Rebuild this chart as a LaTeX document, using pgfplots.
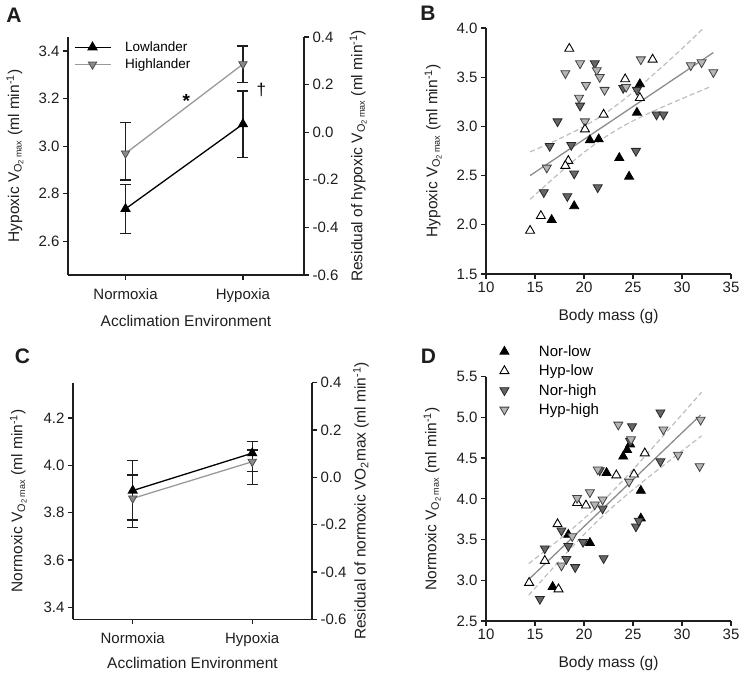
\documentclass[border=0pt]{standalone}
\usepackage{fontspec}
\setmainfont{Liberation Sans}
\usepackage{pgfplots}
\pgfplotsset{compat=1.18}
\definecolor{ax}{HTML}{1E1E1E}
\definecolor{hiline}{HTML}{9A9A9A}
\definecolor{himark}{HTML}{8A8A8A}
\definecolor{norhigh}{HTML}{666666}
\definecolor{hyphigh}{HTML}{B5B5B5}
\definecolor{fitline}{HTML}{8C8C8C}
\definecolor{band}{HTML}{BEBEBE}
\newcommand{\VOmax}{V\textsubscript{O\textsubscript{2}\,{\fontsize{9}{9}\selectfont max}}}
\newcommand{\mininv}{(ml min\textsuperscript{-1})}
\newcommand{\lbf}{\fontsize{15.5}{18}\selectfont}
\pgfplotsset{
  base/.style={scale only axis, anchor=south west, clip=false,
    axis line style={line width=1.3pt, ax, -},
    tick style={line width=1.3pt, ax},
    tick align=outside, major tick length=5pt,
    tick label style={font=\fontsize{15}{18}\selectfont, text=ax},
    /pgf/number format/assume math mode=true},
  leftaxis/.style={axis x line*=bottom, axis y line*=left, tick pos=left},
  rightaxis/.style={axis x line=none, axis y line*=right, ytick pos=right, yticklabel pos=right, xtick=\empty},
  ebars/.style={error bars/.cd, y dir=both, y explicit,
    error bar style={line width=1.3pt, ax},
    error mark options={rotate=90, mark size=5.5pt, line width=1.3pt, ax}},
  lowl/.style={black, line width=1.3pt, mark=triangle*, mark size=4.8pt, mark options={fill=black, draw=black, solid}},
  highl/.style={hiline, line width=1.3pt, mark=triangle*, mark size=4.8pt, mark options={rotate=180, fill=himark, draw=black!70, line width=0.8pt, solid}},
  smk/.style={only marks, mark=triangle*, mark size=5.2pt},
  norlow/.style={smk, mark options={fill=black, draw=black, line width=0.8pt}},
  hyplow/.style={smk, mark options={fill=white, draw=black, line width=0.9pt}},
  norhi/.style={smk, mark options={rotate=180, fill=norhigh, draw=black!85, line width=0.8pt}},
  hyphi/.style={smk, mark options={rotate=180, fill=hyphigh, draw=black!75, line width=0.8pt}},
}
\begin{document}
\begin{tikzpicture}[x=1pt,y=1pt]
\path[use as bounding box] (0,0) rectangle (740,676);
% ---------------- Panel A ----------------
\begin{axis}[base, leftaxis, at={(68pt,401pt)}, width=236pt, height=238pt,
  xmin=-0.49, xmax=1.52, ymin=2.459, ymax=3.459,
  xtick={0,1}, xticklabels={Normoxia,Hypoxia},
  xticklabel style={yshift=-5pt},
  ytick={2.6,2.8,3.0,3.2,3.4}, yticklabels={2.6,2.8,3.0,3.2,3.4},
  xlabel={Acclimation Environment}, ylabel={Hypoxic \VOmax\ \mininv},
  every axis x label/.style={at={(axis description cs:0.5,-0.193)}, anchor=center, font=\lbf, text=ax},
  every axis y label/.style={at={(axis description cs:-0.225,0.5)}, anchor=center, rotate=90, font=\lbf, text=ax},
  reverse legend,
  legend style={at={(axis description cs:0.024,0.99)}, anchor=north west, draw=none, fill=none,
    font=\fontsize{13.5}{16}\selectfont, inner sep=0pt, column sep=12pt, row sep=2pt},
  legend cell align=left,
  legend image code/.code={\draw[mark repeat=2,mark phase=2] plot coordinates {(0pt,0pt) (18pt,0pt) (36pt,0pt)};}]
\addplot[highl, ebars] table[x=x, y=y, y error plus=ep, y error minus=em] {
x y ep em
0 2.970 0.130 0.112
1 3.345 0.076 0.077
};
\addlegendentry{Highlander}
\addplot[lowl, ebars] table[x=x, y=y, y error plus=ep, y error minus=em] {
x y ep em
0 2.737 0.103 0.103
1 3.093 0.139 0.139
};
\addlegendentry{Lowlander}
\node[font=\fontsize{19}{20}\selectfont\bfseries] at (axis cs:0.517,3.190) {*};
\node[font=\fontsize{17}{20}\selectfont] at (axis cs:1.156,3.235) {\textdagger};
\end{axis}
\begin{axis}[base, rightaxis, at={(68pt,401pt)}, width=236pt, height=238pt,
  xmin=0, xmax=1, ymin=-0.6, ymax=0.4,
  ytick={-0.6,-0.4,-0.2,0,0.2,0.4}, yticklabels={-0.6,-0.4,-0.2,0.0,0.2,0.4},
  ylabel={Residual of hypoxic \VOmax\ \mininv},
  every axis y label/.style={at={(axis description cs:1.229,0.5)}, anchor=center, rotate=90, font=\lbf, text=ax}]
\addplot[draw=none, forget plot] coordinates {(0.5,0)};
\end{axis}
% ---------------- Panel B ----------------
\begin{axis}[base, leftaxis, at={(486pt,402pt)}, width=245pt, height=246pt,
  xmin=10, xmax=35, ymin=1.5, ymax=4.0,
  xtick={10,15,20,25,30,35}, xticklabels={10,15,20,25,30,35},
  ytick={1.5,2.0,2.5,3.0,3.5,4.0}, yticklabels={1.5,2.0,2.5,3.0,3.5,4.0},
  xlabel={Body mass (g)}, ylabel={Hypoxic \VOmax\ \mininv},
  every axis x label/.style={at={(axis description cs:0.5,-0.171)}, anchor=center, font=\lbf, text=ax},
  every axis y label/.style={at={(axis description cs:-0.216,0.5)}, anchor=center, rotate=90, font=\lbf, text=ax}]
\addplot[band, line width=1.2pt, dash pattern=on 5pt off 3pt, smooth, forget plot] coordinates {
(14.5,2.741) (16,2.806) (18,2.898) (20,3.000) (22,3.121) (24,3.267) (26,3.433) (28,3.608) (30,3.790) (32.1,3.99)};
\addplot[band, line width=1.2pt, dash pattern=on 5pt off 3pt, smooth, forget plot] coordinates {
(14.5,2.259) (16,2.394) (18,2.570) (20,2.736) (22,2.881) (24,3.003) (26,3.105) (28,3.196) (30,3.282) (32,3.366) (33,3.407)};
\addplot[fitline, line width=1.3pt, forget plot] coordinates {(14.5,2.50) (33.2,3.75)};
\addplot[norhi] coordinates {
(21.1,3.64) (17.3,3.05) (16.5,2.80) (18.7,2.81) (19.6,3.21) (19.0,2.52) (15.9,2.33)
(18.3,2.29) (21.4,2.38) (25.3,2.75) (27.4,3.12) (28.1,3.12) (24.0,3.39) (25.4,3.37)};
\addplot[hyphi] coordinates {
(18.1,3.54) (19.6,3.64) (20.2,3.42) (21.3,3.57) (21.6,3.50) (22.1,3.37) (19.5,3.29)
(20.1,3.05) (16.2,2.58) (25.8,3.68) (24.3,3.40) (30.9,3.62) (32.0,3.65) (33.2,3.55)};
\addplot[hyplow] coordinates {
(18.5,3.79) (27.0,3.68) (24.2,3.48) (25.7,3.29) (22.0,3.12) (20.1,2.97) (18.4,2.65)
(18.1,2.60) (15.6,2.09) (14.5,1.94)};
\addplot[norlow] coordinates {
(25.7,3.43) (25.4,3.14) (20.6,2.86) (21.5,2.87) (23.6,2.68) (24.6,2.49) (19.0,2.19) (16.7,2.05)};
\end{axis}
% ---------------- Panel C ----------------
\begin{axis}[base, leftaxis, at={(73pt,56.7pt)}, width=239pt, height=236.6pt,
  xmin=-0.5, xmax=1.5, ymin=3.349, ymax=4.349,
  xtick={0,1}, xticklabels={Normoxia,Hypoxia},
  xticklabel style={yshift=-5pt},
  ytick={3.4,3.6,3.8,4.0,4.2}, yticklabels={3.4,3.6,3.8,4.0,4.2},
  xlabel={Acclimation Environment}, ylabel={Normoxic \VOmax\ \mininv},
  every axis x label/.style={at={(axis description cs:0.5,-0.186)}, anchor=center, font=\lbf, text=ax},
  every axis y label/.style={at={(axis description cs:-0.229,0.5)}, anchor=center, rotate=90, font=\lbf, text=ax}]
\addplot[highl, ebars] table[x=x, y=y, y error plus=ep, y error minus=em] {
x y ep em
0 3.860 0.099 0.122
1 4.015 0.050 0.095
};
\addplot[lowl, ebars] table[x=x, y=y, y error plus=ep, y error minus=em] {
x y ep em
0 3.893 0.126 0.124
1 4.051 0.049 0.078
};
\end{axis}
\begin{axis}[base, rightaxis, at={(73pt,56.7pt)}, width=239pt, height=236.6pt,
  xmin=0, xmax=1, ymin=-0.6, ymax=0.4,
  ytick={-0.6,-0.4,-0.2,0,0.2,0.4}, yticklabels={-0.6,-0.4,-0.2,0.0,0.2,0.4},
  ylabel={Residual of normoxic VO\textsubscript{2}max \mininv},
  every axis y label/.style={at={(axis description cs:1.205,0.5)}, anchor=center, rotate=90, font=\lbf, text=ax}]
\addplot[draw=none, forget plot] coordinates {(0.5,0)};
\end{axis}
% ---------------- Panel D ----------------
\begin{axis}[base, leftaxis, at={(486pt,55pt)}, width=245pt, height=244.3pt,
  xmin=10, xmax=35, ymin=2.5, ymax=5.5,
  xtick={10,15,20,25,30,35}, xticklabels={10,15,20,25,30,35},
  ytick={2.5,3.0,3.5,4.0,4.5,5.0,5.5}, yticklabels={2.5,3.0,3.5,4.0,4.5,5.0,5.5},
  xlabel={Body mass (g)}, ylabel={Normoxic \VOmax\ \mininv},
  every axis x label/.style={at={(axis description cs:0.5,-0.172)}, anchor=center, font=\lbf, text=ax},
  every axis y label/.style={at={(axis description cs:-0.22,0.5)}, anchor=center, rotate=90, font=\lbf, text=ax},
  legend style={at={(axis description cs:0.056,1.137)}, anchor=north west, draw=none, fill=none,
    font=\fontsize{15}{18}\selectfont, inner sep=0pt, column sep=28pt, row sep=3pt},
  legend cell align=left,
  legend image code/.code={\draw plot coordinates {(0pt,0pt)};}]
\addplot[band, line width=1.2pt, dash pattern=on 5pt off 3pt, smooth, forget plot] coordinates {
(14.36,3.204) (16,3.359) (18,3.552) (20,3.757) (22,3.981) (24,4.229) (26,4.492) (28,4.763) (30,5.036) (32,5.310)};
\addplot[band, line width=1.2pt, dash pattern=on 5pt off 3pt, smooth, forget plot] coordinates {
(14.36,2.816) (16,3.039) (18,3.306) (20,3.563) (22,3.799) (24,4.013) (26,4.210) (28,4.401) (30,4.588) (32,4.774)};
\addplot[fitline, line width=1.3pt, forget plot] coordinates {(14.36,3.01) (31.9,5.03)};
\addplot[norlow] coordinates {
(24.0,4.52) (24.4,4.60) (24.7,4.67) (22.3,4.32) (25.8,4.10) (25.8,3.76) (18.4,3.56) (20.6,3.46) (16.8,2.92)};
\addlegendentry{Nor-low}
\addplot[hyplow] coordinates {
(26.2,4.56) (23.3,4.29) (25.1,4.30) (19.3,3.95) (20.2,3.92) (17.3,3.69) (16.0,3.24) (17.4,2.89) (14.4,2.97)};
\addlegendentry{Hyp-low}
\addplot[norhi] coordinates {
(27.8,5.06) (24.9,4.89) (24.7,4.71) (27.8,4.46) (21.6,4.35) (21.9,3.88) (25.3,3.66) (25.6,3.73)
(17.7,3.61) (18.4,3.42) (19.9,3.47) (16.0,3.39) (18.2,3.26) (19.1,3.16) (22.0,3.27) (15.5,2.77)};
\addlegendentry{Nor-high}
\addplot[hyphi] coordinates {
(23.5,4.91) (28.1,4.85) (31.9,4.97) (24.8,4.73) (29.6,4.54) (31.8,4.40) (24.6,4.21)
(21.4,4.36) (20.6,4.08) (19.3,4.01) (21.1,3.93) (21.9,3.99) (18.8,3.54) (17.7,3.18)};
\addlegendentry{Hyp-high}
\end{axis}
% panel letters
\node[font=\fontsize{21}{24}\selectfont\bfseries, text=ax] at (14,660.5) {A};
\node[font=\fontsize{21}{24}\selectfont\bfseries, text=ax] at (428,662.5) {B};
\node[font=\fontsize{21}{24}\selectfont\bfseries, text=ax] at (22.5,319.5) {C};
\node[font=\fontsize{21}{24}\selectfont\bfseries, text=ax] at (428.5,319.5) {D};
\end{tikzpicture}
\end{document}
